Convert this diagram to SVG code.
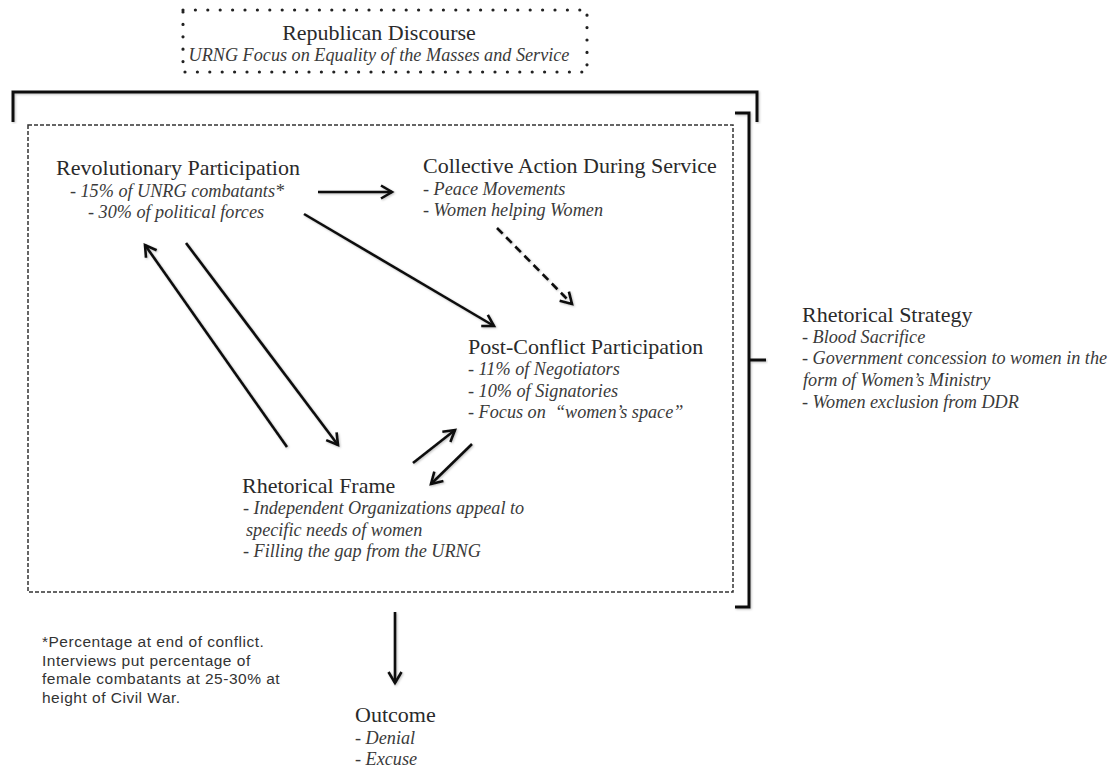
<svg xmlns="http://www.w3.org/2000/svg" width="1116" height="768" viewBox="0 0 1116 768">
<defs>
<marker id="ah" markerUnits="userSpaceOnUse" markerWidth="16" markerHeight="16" refX="12" refY="8" orient="auto">
<path d="M1,1.5 L12,8 L1,14.5" fill="none" stroke="#111" stroke-width="2.6"/>
</marker>
<filter id="sh" x="-5%" y="-5%" width="110%" height="110%">
<feDropShadow dx="1" dy="1" stdDeviation="1" flood-color="#000" flood-opacity="0.25"/>
</filter>
<style>
.t{font-family:"Liberation Serif","Times New Roman",serif;font-size:22px;fill:#2a2a2a}
.i{font-family:"Liberation Serif","Times New Roman",serif;font-size:18.2px;font-style:italic;fill:#3a3a3a;white-space:pre}
.f{font-family:"Liberation Sans",Arial,sans-serif;font-size:15.5px;letter-spacing:0.5px;fill:#333}
.ln{stroke:#111;stroke-width:2.6;fill:none}
.br{stroke:#111;stroke-width:3;fill:none;filter:url(#sh)}
</style>
</defs>
<rect width="1116" height="768" fill="#fff"/>

<g id="brackets">
<path class="br" d="M13,122 V92 H757 V122"/>
<path class="br" d="M735,113 H749 V607 H735 M749,360 H766"/>
</g>

<g id="republican-discourse">
<rect x="183" y="10" width="404" height="62" fill="none" stroke="#222" stroke-width="3.2" stroke-linecap="round" stroke-dasharray="0 12.4"/>
<text class="t" x="379" y="40" text-anchor="middle">Republican Discourse</text>
<text class="i" x="379" y="61" text-anchor="middle">URNG Focus on Equality of the Masses and Service</text>
</g>

<g id="frame-box">
<rect x="28" y="125" width="705" height="467" fill="none" stroke="#333" stroke-width="1.5" stroke-dasharray="4 2"/>
</g>

<g id="revolutionary-participation">
<text class="t" x="178" y="175" text-anchor="middle">Revolutionary Participation</text>
<text class="i" x="177" y="197" text-anchor="middle">- 15% of UNRG combatants*</text>
<text class="i" x="176" y="218" text-anchor="middle">- 30% of political forces</text>
</g>

<g id="collective-action">
<text class="t" x="423" y="173">Collective Action During Service</text>
<text class="i" x="423" y="195">- Peace Movements</text>
<text class="i" x="423" y="216">- Women helping Women</text>
</g>

<g id="post-conflict">
<text class="t" x="468" y="354">Post-Conflict Participation</text>
<text class="i" x="468" y="375">- 11% of Negotiators</text>
<text class="i" x="468" y="397">- 10% of Signatories</text>
<text class="i" x="468" y="418">- Focus on  “women’s space”</text>
</g>

<g id="rhetorical-frame">
<text class="t" x="242" y="493">Rhetorical Frame</text>
<text class="i" x="243" y="514">- Independent Organizations appeal to</text>
<text class="i" x="246" y="536">specific needs of women</text>
<text class="i" x="243" y="557">- Filling the gap from the URNG</text>
</g>

<g id="rhetorical-strategy">
<text class="t" x="802" y="322">Rhetorical Strategy</text>
<text class="i" x="802" y="343">- Blood Sacrifice</text>
<text class="i" x="802" y="364">- Government concession to women in the</text>
<text class="i" x="803" y="386">form of Women’s Ministry</text>
<text class="i" x="802" y="408">- Women exclusion from DDR</text>
</g>

<g id="footnote">
<text class="f" x="42" y="647">*Percentage at end of conflict.</text>
<text class="f" x="42" y="665.5">Interviews put percentage of</text>
<text class="f" x="42" y="684">female combatants at 25-30% at</text>
<text class="f" x="42" y="702.5">height of Civil War.</text>
</g>

<g id="outcome">
<text class="t" x="355" y="722">Outcome</text>
<text class="i" x="355" y="744">- Denial</text>
<text class="i" x="355" y="765">- Excuse</text>
</g>

<g id="connectors" filter="url(#sh)">
<line class="ln" x1="318" y1="192" x2="392" y2="192" marker-end="url(#ah)"/>
<line class="ln" x1="304" y1="214" x2="494" y2="326" marker-end="url(#ah)"/>
<line class="ln" x1="497" y1="228" x2="572" y2="304" stroke-dasharray="8 5" stroke-width="3" marker-end="url(#ah)"/>
<line class="ln" x1="287" y1="447" x2="145" y2="245" marker-end="url(#ah)"/>
<line class="ln" x1="186" y1="243" x2="338" y2="445" marker-end="url(#ah)"/>
<line class="ln" x1="413" y1="463" x2="455" y2="430" marker-end="url(#ah)"/>
<line class="ln" x1="472" y1="444" x2="431" y2="484" marker-end="url(#ah)"/>
<line class="ln" x1="395" y1="612" x2="395" y2="683" marker-end="url(#ah)"/>
</g>
</svg>
